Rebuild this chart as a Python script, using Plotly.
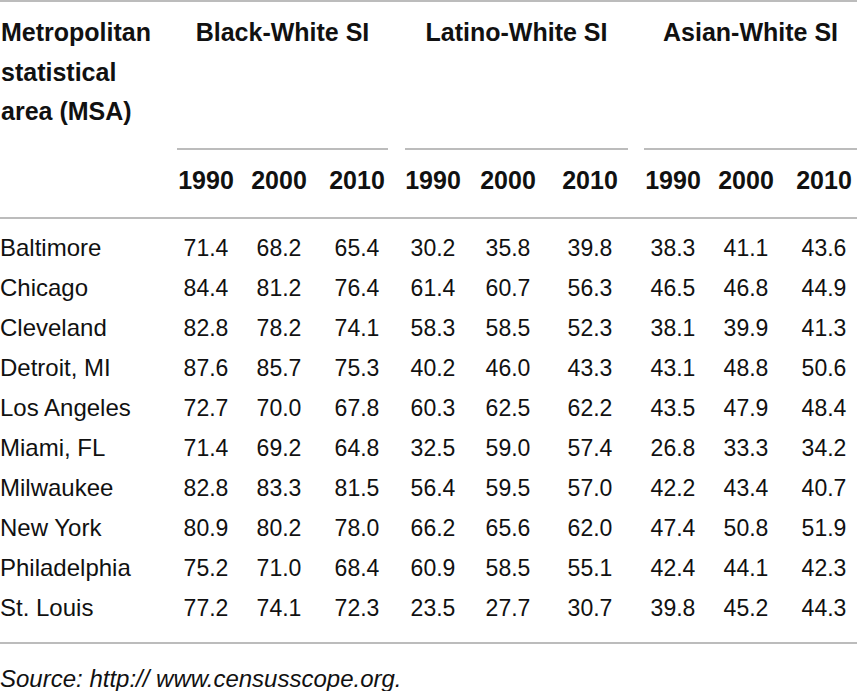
import plotly.graph_objects as go

# table contents
msa = ['Baltimore', 'Chicago', 'Cleveland', 'Detroit, MI', 'Los Angeles',
       'Miami, FL', 'Milwaukee', 'New York', 'Philadelphia', 'St. Louis']
groups = ['Black-White SI', 'Latino-White SI', 'Asian-White SI']
years = ['1990', '2000', '2010']
stub_header = ['Metropolitan', 'statistical', 'area (MSA)']

black_1990 = [71.4, 84.4, 82.8, 87.6, 72.7, 71.4, 82.8, 80.9, 75.2, 77.2]
black_2000 = [68.2, 81.2, 78.2, 85.7, 70.0, 69.2, 83.3, 80.2, 71.0, 74.1]
black_2010 = [65.4, 76.4, 74.1, 75.3, 67.8, 64.8, 81.5, 78.0, 68.4, 72.3]
latino_1990 = [30.2, 61.4, 58.3, 40.2, 60.3, 32.5, 56.4, 66.2, 60.9, 23.5]
latino_2000 = [35.8, 60.7, 58.5, 46.0, 62.5, 59.0, 59.5, 65.6, 58.5, 27.7]
latino_2010 = [39.8, 56.3, 52.3, 43.3, 62.2, 57.4, 57.0, 62.0, 55.1, 30.7]
asian_1990 = [38.3, 46.5, 38.1, 43.1, 43.5, 26.8, 42.2, 47.4, 42.4, 39.8]
asian_2000 = [41.1, 46.8, 39.9, 48.8, 47.9, 33.3, 43.4, 50.8, 44.1, 45.2]
asian_2010 = [43.6, 44.9, 41.3, 50.6, 48.4, 34.2, 40.7, 51.9, 42.3, 44.3]

source = 'Source: http:// www.censusscope.org.'

columns = [black_1990, black_2000, black_2010,
           latino_1990, latino_2000, latino_2010,
           asian_1990, asian_2000, asian_2010]

#
#   LAYOUT (pixel grid, y grows downward)
#
W, H = 857, 691
col_x = [206, 279, 357, 433, 508, 590, 673, 746, 824]
group_span = [(177, 388), (405, 628), (644, 857)]
row_y0, row_step = 250, 40
row_y = [row_y0 + i * row_step for i in range(len(msa))]
header_y = [35, 75, 114]
year_y = 183

txt = '#111111'
rule = '#a6a6a6'
font_reg = 'Liberation Sans'

fig = go.Figure()

# header: stub column
fig.add_trace(go.Scatter(
    x=[1] * len(stub_header), y=header_y, text=stub_header,
    mode='text', textposition='middle right',
    textfont=dict(family=font_reg, size=25, color=txt, weight='bold'),
))

# header: group names
fig.add_trace(go.Scatter(
    x=[(a + b) / 2 for a, b in group_span], y=[header_y[0]] * len(groups),
    text=groups, mode='text', textposition='middle center',
    textfont=dict(family=font_reg, size=25, color=txt, weight='bold'),
))

# header: years
fig.add_trace(go.Scatter(
    x=col_x, y=[year_y] * len(col_x), text=years * len(groups),
    mode='text', textposition='middle center',
    textfont=dict(family=font_reg, size=25, color=txt, weight='bold'),
))

# MSA names
fig.add_trace(go.Scatter(
    x=[0] * len(msa), y=row_y, text=msa,
    mode='text', textposition='middle right',
    textfont=dict(family=font_reg, size=24, color=txt),
))

# values
for cx, vals in zip(col_x, columns):
    fig.add_trace(go.Scatter(
        x=[cx] * len(vals), y=row_y, text=[f'{v:.1f}' for v in vals],
        mode='text', textposition='middle center',
        textfont=dict(family=font_reg, size=23, color=txt),
    ))

# source note
fig.add_trace(go.Scatter(
    x=[0], y=[681], text=[source],
    mode='text', textposition='middle right',
    textfont=dict(family=font_reg, size=24, color=txt, style='italic'),
))

# rules
shapes = [
    dict(type='line', x0=0, x1=W, y0=1, y1=1),
    dict(type='line', x0=0, x1=W, y0=218, y1=218),
    dict(type='line', x0=0, x1=W, y0=643, y1=643),
]
for a, b in group_span:
    shapes.append(dict(type='line', x0=a, x1=b, y0=149, y1=149))
for s in shapes:
    s.update(xref='x', yref='y', line=dict(color=rule, width=1.6))

fig.update_layout(
    width=W, height=H,
    margin=dict(l=0, r=0, t=0, b=0),
    paper_bgcolor='white', plot_bgcolor='white',
    showlegend=False,
    shapes=shapes,
    hovermode=False,
)
fig.update_xaxes(range=[0, W], visible=False, fixedrange=True)
fig.update_yaxes(range=[H, 0], visible=False, fixedrange=True)

# drop the browser's default body margin so the figure sits at the corner
fig.write_html('out.html', config={'displayModeBar': False},
               post_script="document.body.style.margin='0';")
